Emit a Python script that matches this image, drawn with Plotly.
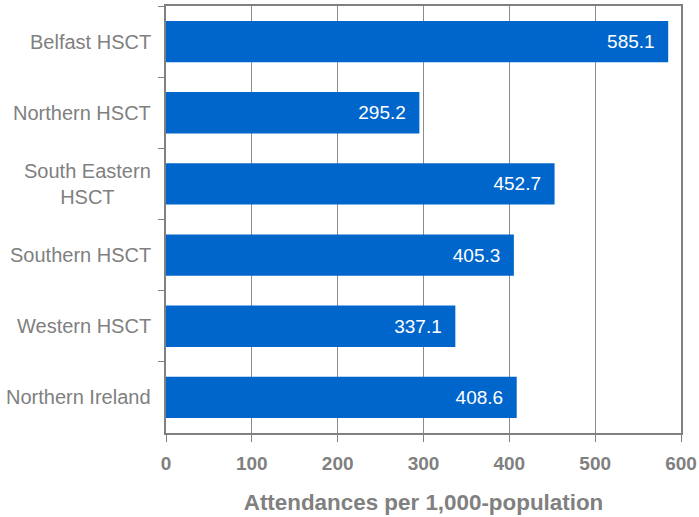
import plotly.graph_objects as go

categories = ["Belfast HSCT", "Northern HSCT", "South Eastern<br>HSCT",
              "Southern HSCT", "Western HSCT", "Northern Ireland"]
values = [585.1, 295.2, 452.7, 405.3, 337.1, 408.6]
x_ticks = [0, 100, 200, 300, 400, 500, 600]

grey = "#808080"
FONT = "Liberation Sans, Arial, sans-serif"
fig = go.Figure(go.Bar(
    y=categories, x=values, orientation="h",
    marker=dict(color="#0066CC", line=dict(width=0)),
    text=[f"{v:.1f}" for v in values], textposition="inside",
    texttemplate="%{text}\u00a0\u00a0",
    insidetextanchor="end",
    textfont=dict(color="white", size=19, family=FONT),
))
for c in categories:
    fig.add_annotation(
        x=0, xref="paper", y=c, yref="y", text=c, showarrow=False,
        xanchor="right", xshift=-13, align="center",
        font=dict(size=20, color=grey, family=FONT),
    )
fig.update_layout(
    width=699, height=517,
    margin=dict(l=166, r=18, t=6, b=84),
    paper_bgcolor="white", plot_bgcolor="white",
    bargap=0.42,
    showlegend=False,
    font=dict(family=FONT, color=grey),
)
fig.update_xaxes(
    range=[0, 600], tickvals=x_ticks, ticks="outside", ticklen=7, tickcolor=grey,
    showgrid=True, gridcolor="#8c8c8c", gridwidth=1,
    showline=True, linecolor=grey, linewidth=2, mirror=True,
    tickfont=dict(size=19, color=grey, family=FONT, weight="bold"),
    ticklabelstandoff=5,
    title=dict(text="<b>Attendances per 1,000-population</b>",
               font=dict(size=22.4, color=grey), standoff=22),
    zeroline=False, automargin=False,
)
fig.update_yaxes(
    autorange="reversed", ticks="outside", tickson="boundaries", ticklen=6,
    tickcolor=grey, showline=True, linecolor=grey, linewidth=2, mirror=True,
    showticklabels=False, showgrid=False, automargin=False,
)
fig.write_html("out.html")
